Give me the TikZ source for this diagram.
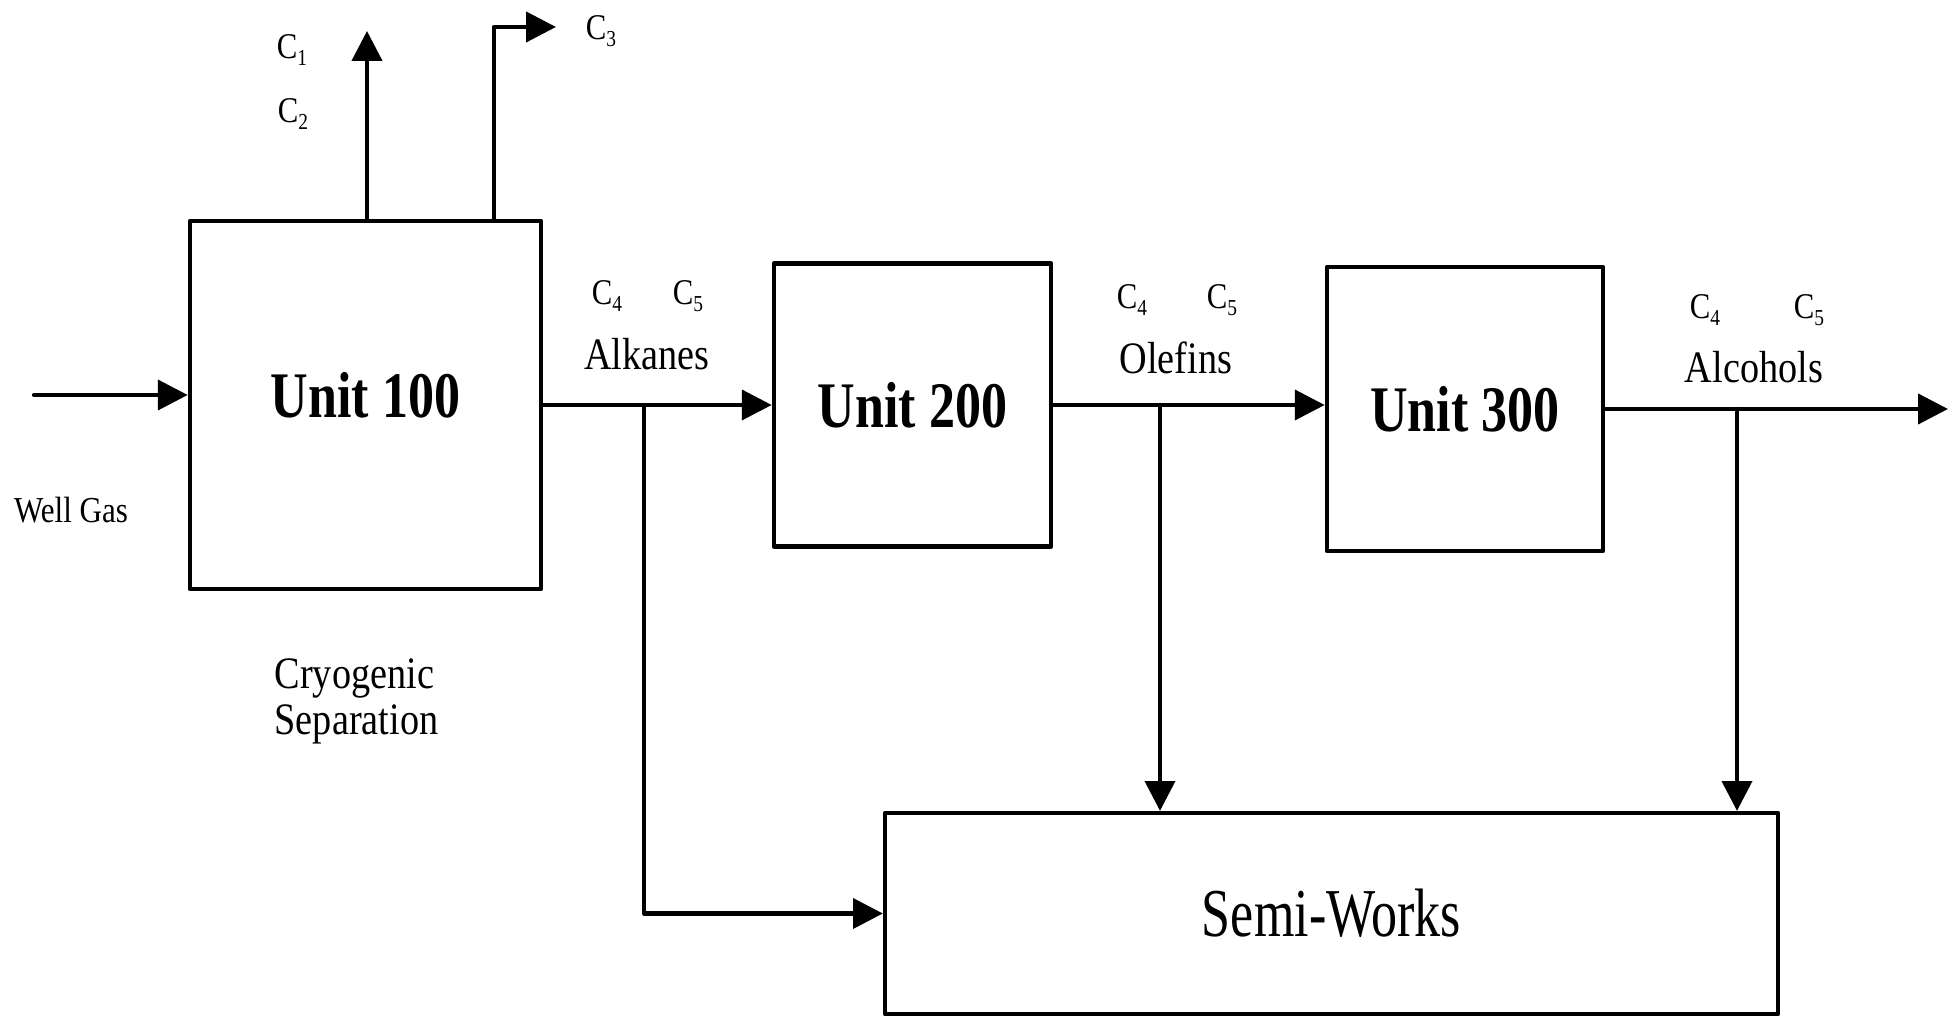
\documentclass[tikz,border=0pt]{standalone}
\usepackage{fontspec}
\setmainfont{Liberation Serif}[FakeStretch=0.85]
\newfontfamily\unitfont{Liberation Serif}[FakeStretch=0.8]
\newfontfamily\swfont{Liberation Serif}[FakeStretch=0.76]
\newcommand{\cnum}[1]{C\raisebox{-0.45ex}{\fontsize{6.5}{7}\selectfont #1}}
\usetikzlibrary{arrows.meta}
\tikzset{
  unitbox/.style={draw, line width=1.3pt, inner sep=0pt, font=\unitfont\bfseries\fontsize{18.5}{20}\selectfont},
  flow/.style={line width=1.2pt, -{Triangle[length=8.5pt, width=8.5pt]}},
  clbl/.style={font=\fontsize{10.3}{12}\selectfont, inner sep=0pt},
  slbl/.style={font=\fontsize{12.8}{14}\selectfont, inner sep=0pt}
}
\begin{document}
\begin{tikzpicture}[line join = round, line cap = round,>=stealth,scale=1]
\useasboundingbox (0,0) rectangle (19.5,10.16);
\node[unitbox, minimum width=3.51cm, minimum height=3.68cm] (u100) at (3.655,6.11) {\raisebox{0.2cm}{Unit 100}};
\node[unitbox, minimum width=2.77cm, minimum height=2.83cm] (u200) at (9.125,6.11) {Unit 200};
\node[unitbox, minimum width=2.76cm, minimum height=2.84cm] (u300) at (14.65,6.07) {\raisebox{-0.06cm}{Unit 300}};
\node[draw, line width=1.2pt, inner sep=0pt, minimum width=8.93cm, minimum height=2.01cm,
      font=\swfont\fontsize{19.5}{22}\selectfont] (sw) at (13.315,1.025) {\raisebox{-0.12cm}{Semi-Works}};
\coordinate (wg) at (0.34,6.21);
\coordinate (top1) at (3.67,9.85);
\coordinate (top3) at (4.94,9.89);
\coordinate (out3) at (5.56,9.89);
\coordinate (alk) at (6.44,0);
\coordinate (ole) at (11.60,0);
\coordinate (alc) at (17.37,0);
\coordinate (end) at (19.48,0);
\draw[flow] (wg) -- (wg -| u100.west);
\draw[flow] (top1 |- u100.north) -- (top1);
\draw[flow] (top3 |- u100.north) -- (top3) -- (out3);
\draw[flow] (u100.east) -- (u100.east -| u200.west);
\draw[flow] (u200.east) -- (u200.east -| u300.west);
\draw[flow] (u300.east) -- (u300.east -| end);
\draw[flow] (alk |- u100.east) -- (alk |- sw.west) -- (sw.west);
\draw[flow] (ole |- u200.east) -- (ole |- sw.north);
\draw[flow] (alc |- u300.east) -- (alc |- sw.north);
\node[clbl] (c1) at (2.92,9.66) {\cnum{1}};
\node[clbl] (c2) at (2.93,9.02) {\cnum{2}};
\node[clbl] (c3) at (6.01,9.85) {\cnum{3}};
\node[clbl] (ac4) at (6.07,7.20) {\cnum{4}};
\node[clbl] (ac5) at (6.88,7.20) {\cnum{5}};
\node[slbl] (alkanes) at (6.47,6.62) {Alkanes};
\node[clbl] (oc4) at (11.32,7.16) {\cnum{4}};
\node[clbl] (oc5) at (12.22,7.16) {\cnum{5}};
\node[slbl] (olefins) at (11.76,6.58) {Olefins};
\node[clbl] (hc4) at (17.05,7.06) {\cnum{4}};
\node[clbl] (hc5) at (18.09,7.06) {\cnum{5}};
\node[slbl] (alcohols) at (17.54,6.49) {Alcohols};
\node[font=\fontsize{10.4}{12}\selectfont, inner sep=0pt] (well) at (0.71,5.06) {Well Gas};
\node[slbl, anchor=west] (cryo) at (2.74,3.38) {Cryogenic};
\node[slbl, anchor=west] (sep) at (2.74,2.92) {Separation};
\end{tikzpicture}
\end{document}
